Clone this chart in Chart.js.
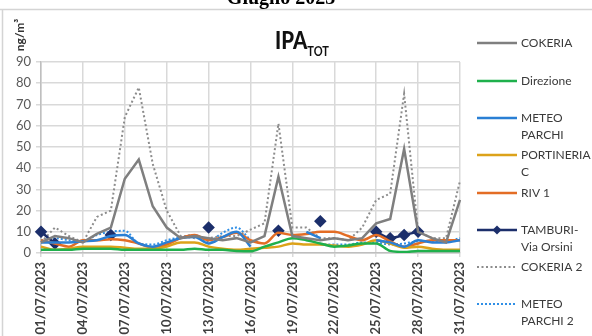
<!DOCTYPE html>
<html>
<head>
    <title>IPA TOT - Luglio 2023</title>
    <script src="https://cdn.jsdelivr.net/npm/chart.js"></script>
    <style>
      body { margin: 0; background: #fff; overflow: hidden; }
      #wrap { width: 592px; height: 336px; position: relative; }
    </style>
</head>
<body>
<div id="wrap"><canvas id="ipaChart"></canvas></div>

<script>
    // categories (one per day of July 2023)
    const days = ['01/07/2023','02/07/2023','03/07/2023','04/07/2023','05/07/2023','06/07/2023','07/07/2023','08/07/2023',
      '09/07/2023','10/07/2023','11/07/2023','12/07/2023','13/07/2023','14/07/2023','15/07/2023','16/07/2023',
      '17/07/2023','18/07/2023','19/07/2023','20/07/2023','21/07/2023','22/07/2023','23/07/2023','24/07/2023',
      '25/07/2023','26/07/2023','27/07/2023','28/07/2023','29/07/2023','30/07/2023','31/07/2023'];

    // series values, ng/m3
    const cokeria = [5, 8, 7, 5, 9, 12, 35, 44, 22, 12, 7, 8, 7, 6, 7, 5, 8, 36, 8, 7, 6, 7, 6, 7, 14, 16, 49, 10, 7, 5, 25];
    const direzione = [1.5, 1.5, 1.5, 2, 2, 2, 1.5, 1.5, 1.5, 1.5, 1.5, 2, 1.5, 1.5, 1, 0.8, 3, 5, 7, 6, 4.5, 3, 3.5, 4.5, 4.5, 1, 0.5, 1, 1, 1, 1];
    const meteoParchi = [5, 5, 5, 5.5, 6, 8, 8.5, 4.5, 3, 5, 7, 7.5, 4.5, 7.5, 10, 3, null, null, null, 10, 7, null, null, null, 6, 5, 3, 6, 5, 5, 6];
    const portineriaC = [3, 1.5, 2, 3, 3, 3, 2.5, 2, 2, 3, 5, 5, 3, 2, 1.5, 2, 2.5, 3, 4.5, 4, 4, 3.5, 3, 4, 6, 4.5, 2.5, 3, 2, 1.5, 1.5];
    const riv1 = [6, 4.5, 3, 6, 6, 6.5, 6, 4.5, 2.5, 4, 7, 8.5, 6, 7.5, 9.5, 6, 4.5, 9.5, 8.5, 9, 10, 10, 8, 6, 8.5, 5.5, 3, 4.5, 6, 6, 6];
    const tamburi = [10, 4.5, null, null, null, 8.5, null, null, null, null, null, null, 12, null, null, null, null, 10.5, null, null, 15, null, null, null, 10, 7, 8.5, 10, null, null, null];
    const cokeria2 = [5, 12, 8, 5, 17, 20, 64, 78, 42, 20, 8, 7, 7, 8, 8, 11, 14, 61, 12, 12, 7, 7, 6, 12, 25, 28, 75, 10, 7, 7, 34];
    const meteoParchi2 = [6, 7, 6, 5.5, 8.5, 10, 10.5, 4.5, 4, 6, 7.5, 8.5, 5.5, 9.5, 12, 6, null, null, null, null, 4, 4, 4, 5, 5, 4, 4.5, 5.5, 5.5, 5.5, 7];

    // y axis ticks
    const yTicks = [0, 10, 20, 30, 40, 50, 60, 70, 80, 90];

    // legend text (multi-line like the original)
    const legendText = [['COKERIA'], ['Direzione'], ['METEO', 'PARCHI'], ['PORTINERIA', 'C'], ['RIV 1'],
      ['TAMBURI-', 'Via Orsini'], ['COKERIA 2'], ['METEO', 'PARCHI 2']];

    const FONT = 'Lato, "Noto Sans", sans-serif';

    function line(label, data, color, extra) {
      return Object.assign({
        label: label, data: data, borderColor: color, backgroundColor: color,
        borderWidth: 2.5, pointRadius: 0, spanGaps: false, cubicInterpolationMode: 'monotone'
      }, extra || {});
    }

    const datasets = [
      line('COKERIA', cokeria, '#7f7f7f', { cubicInterpolationMode: 'default', tension: 0 }),
      line('Direzione', direzione, '#1fb04c'),
      line('METEO PARCHI', meteoParchi, '#2a7fd4'),
      line('PORTINERIA C', portineriaC, '#dca21a'),
      line('RIV 1', riv1, '#e36d25'),
      line('TAMBURI-Via Orsini', tamburi, '#1c2f6b', { pointRadius: 4.5, pointStyle: 'rectRot', pointHoverRadius: 4.5 }),
      line('COKERIA 2', cokeria2, '#8c8c8c', { borderWidth: 2, borderDash: [2, 2.5], cubicInterpolationMode: 'default', tension: 0 }),
      line('METEO PARCHI 2', meteoParchi2, '#2f8fe6', { borderWidth: 2, borderDash: [2, 2] })
    ];

    // titles, unit label and legend drawn onto the canvas
    const decor = {
      id: 'decor',
      afterDraw(chart) {
        const c = chart.ctx;
        c.save();
        // frame
        c.strokeStyle = '#d4d4d4';
        c.lineWidth = 1.5;
        c.beginPath();
        c.moveTo(0, 9.5); c.lineTo(592, 9.5);
        c.moveTo(2.5, 9.5); c.lineTo(2.5, 336);
        c.stroke();

        // page title (cut off at the top as in the picture)
        c.fillStyle = '#000';
        c.font = 'bold 20px "Liberation Serif", serif';
        c.textAlign = 'center';
        c.textBaseline = 'alphabetic';
        c.fillText('Giugno 2023', 281, 4);

        // chart title IPA with subscript TOT (a bit condensed, like Calibri)
        c.save();
        c.translate(275, 0);
        c.scale(0.85, 1);
        c.textAlign = 'left';
        c.fillStyle = '#111';
        c.font = '900 24px ' + FONT;
        c.fillText('IPA', 0, 49);
        const w = c.measureText('IPA').width;
        c.font = 'bold 13px ' + FONT;
        c.fillText('TOT', w, 56);
        c.restore();

        // unit label
        c.save();
        c.translate(20, 35);
        c.rotate(-Math.PI / 2);
        c.textAlign = 'center';
        c.textBaseline = 'middle';
        c.font = 'bold 12px ' + FONT;
        c.fillStyle = '#333';
        c.fillText('ng/m\u00b3', 0, 0);
        c.restore();

        // legend
        const rows = [43, 81, 118, 155, 193, 230, 267, 304];
        c.font = '12px ' + FONT;
        c.textAlign = 'left';
        c.textBaseline = 'middle';
        chart.data.datasets.forEach((ds, i) => {
          const y = rows[i];
          c.strokeStyle = ds.borderColor;
          c.lineWidth = ds.borderWidth;
          c.setLineDash(ds.borderDash || []);
          c.beginPath();
          c.moveTo(477, y); c.lineTo(517, y);
          c.stroke();
          c.setLineDash([]);
          if (ds.pointRadius) {
            c.fillStyle = ds.borderColor;
            c.beginPath();
            c.moveTo(497, y - 4.5); c.lineTo(501.5, y); c.lineTo(497, y + 4.5); c.lineTo(492.5, y);
            c.closePath();
            c.fill();
          }
          c.fillStyle = '#3a3a3a';
          legendText[i].forEach((t, k) => c.fillText(t, 521, y + k * 17));
        });
        c.restore();
      }
    };

    new Chart(document.getElementById('ipaChart').getContext('2d'), {
      type: 'line',
      data: { labels: days, datasets: datasets },
      options: {
        responsive: true,
        maintainAspectRatio: false,
        animation: false,
        layout: { padding: { top: 62, right: 132, left: 0, bottom: 0 } },
        plugins: { legend: { display: false }, title: { display: false }, tooltip: { enabled: false } },
        scales: {
          x: {
            offset: false,
            grid: {
              color: ctx => (ctx.index % 3 === 0 ? '#d9d9d9' : 'rgba(0,0,0,0)'),
              lineWidth: 1.5,
              tickLength: 4
            },
            border: { color: '#bfbfbf', width: 1.5 },
            ticks: {
              autoSkip: false,
              minRotation: 90,
              maxRotation: 90,
              padding: 5,
              color: '#3f3f3f',
              font: { family: FONT, size: 13, weight: 'bold' },
              callback: (v, i) => (i % 3 === 0 ? days[i] : '')
            },
            afterFit: s => { s.height = 83; }
          },
          y: {
            min: yTicks[0],
            max: yTicks[yTicks.length - 1],
            afterBuildTicks: s => { s.ticks = yTicks.map(v => ({ value: v })); },
            grid: { color: '#d9d9d9', lineWidth: 1.5, tickLength: 5 },
            border: { color: '#bfbfbf', width: 1.5 },
            ticks: { padding: 5, color: '#595959', font: { family: FONT, size: 13 } },
            afterFit: s => { s.width = 41; }
          }
        }
      },
      plugins: [decor]
    });
</script>
</body>
</html>
